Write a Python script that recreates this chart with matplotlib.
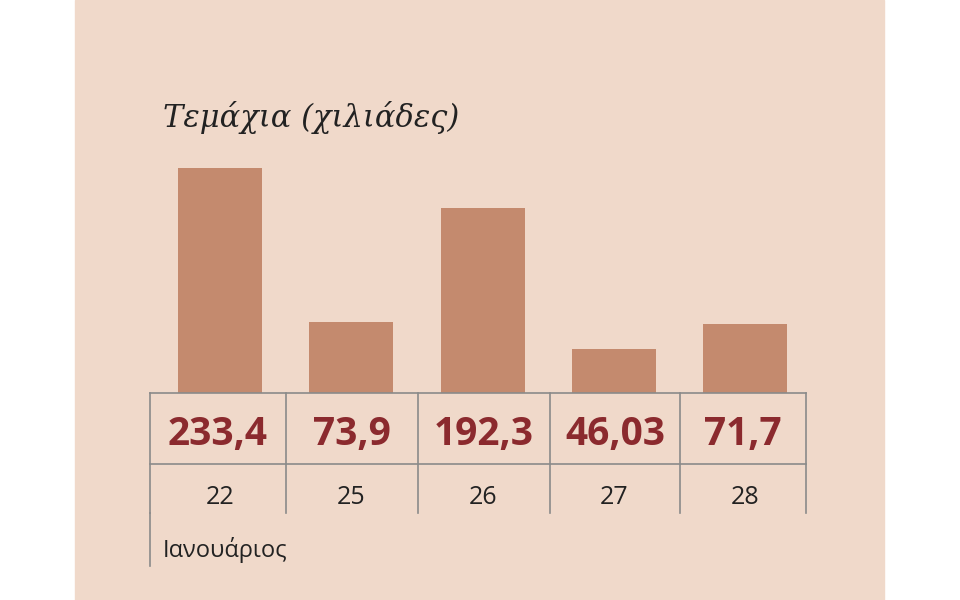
import matplotlib.pyplot as plt
from matplotlib.patches import Rectangle

days = ["22", "25", "26", "27", "28"]
values = [233.4, 73.9, 192.3, 46.03, 71.7]
value_labels = ["233,4", "73,9", "192,3", "46,03", "71,7"]

bg = "#f0d9ca"
bar_col = "#c48a6e"
red = "#8b2a2e"
line_col = "#8a8a8a"

fig = plt.figure(figsize=(9.6, 6), dpi=100)
ax = fig.add_axes([0, 0, 1, 1])
ax.set_xlim(0, 960)
ax.set_ylim(600, 0)
ax.axis("off")
ax.add_patch(Rectangle((75, 0), 809, 600, color=bg, zorder=0))

base = 393
scale = 225 / 233.4
centers = [220, 351, 483, 614, 745]
ax.bar(centers, [-v * scale for v in values], bottom=base, width=84,
       color=bar_col, zorder=2)

edges = [150, 286, 418, 550, 680, 806]
for x in edges:
    ax.plot([x, x], [base, 513], color=line_col, lw=1.2, zorder=3)
ax.plot([150, 150], [513, 566], color=line_col, lw=1.2)
ax.plot([150, 806], [base, base], color=line_col, lw=1.2, zorder=3)
ax.plot([150, 806], [464, 464], color=line_col, lw=1.2)

for i, c in enumerate(centers):
    ax.text((edges[i] + edges[i + 1]) / 2, 434, value_labels[i], color=red,
            fontsize=28, fontweight="bold", ha="center", va="center",
            family="Open Sans")
    ax.text(c, 497, days[i], color="#222222", fontsize=18, ha="center",
            va="center", family="Open Sans")

ax.text(163, 550, "Ιανουάριος", fontsize=17, ha="left", va="center",
        color="#222222", family="Open Sans")
ax.text(163, 117, "Τεμάχια (χιλιάδες)", fontsize=22, style="italic",
        ha="left", va="center", color="#222222", family="DejaVu Serif")

fig.savefig("out.png", dpi=100, facecolor="white")
